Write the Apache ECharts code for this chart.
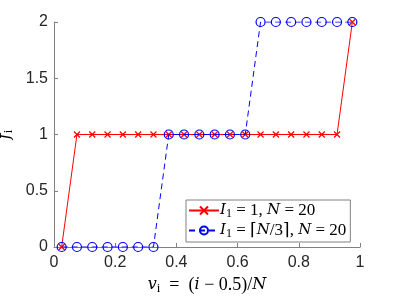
<!DOCTYPE html>
<html><head><meta charset="utf-8">
<script src="https://cdn.jsdelivr.net/npm/echarts@6/dist/echarts.min.js"></script>
<style>html,body{margin:0;padding:0;background:#fff}#c{width:399px;height:299px}</style>
</head><body><div id="c"></div>
<script>
var vValues = [0.025,0.075,0.125,0.175,0.225,0.275,0.325,0.375,0.425,0.475,0.525,0.575,0.625,0.675,0.725,0.775,0.825,0.875,0.925,0.975];
var fRed  = [0,1,1,1,1,1,1,1,1,1,1,1,1,1,1,1,1,1,1,2];
var fBlue = [0,0,0,0,0,0,0,1,1,1,1,1,1,2,2,2,2,2,2,2];
var xTicks = [0,0.2,0.4,0.6,0.8,1];
var yTicks = [0,0.5,1,1.5,2];
var seriesNames = ['red','blue'];

function pairs(xs, ys){ return xs.map(function(x,i){ return [x, ys[i]]; }); }
var serif = '"Liberation Serif", "DejaVu Serif", serif';
var iserif = '"DejaVu Serif", "Liberation Serif", serif';
function makeRich(fs){
  return {
    it: {fontFamily: iserif, fontStyle: 'italic', fontSize: fs-2, color: '#000'},
    rm: {fontFamily: serif, fontSize: fs, color: '#000'},
    sub: {fontFamily: serif, fontSize: Math.round(fs*0.7), color: '#000', verticalAlign: 'bottom', padding:[Math.round(fs*0.4),0,0,0]}
  };
}
var sans = '"Liberation Sans", Arial, sans-serif';
var chart = echarts.init(document.getElementById('c'), null, {renderer:'canvas'});
chart.setOption({
  animation: false,
  backgroundColor: '#fff',
  grid: {left: 54, right: 39, top: 22, bottom: 52, containLabel: false, outerBoundsMode: 'none'},
  xAxis: {
    type: 'value', min: 0, max: 1, interval: 0.2,
    axisLine: {lineStyle: {color: '#808080', width: 1}},
    axisTick: {inside: true, length: 4, lineStyle: {color: '#808080'}},
    splitLine: {show: false},
    axisLabel: {color: '#262626', fontSize: 16, fontFamily: sans, margin: 8,
      formatter: function(v){ return xTicks.indexOf(v) >= 0 ? String(v) : ''; }},
    name: '{it|v}{sub|i}{rm|  =  (}{it|i}{rm| − 0.5)/}{it|N}',
    nameLocation: 'middle', nameGap: 27,
    nameTextStyle: {rich: makeRich(18)}
  },
  yAxis: {
    type: 'value', min: 0, max: 2, interval: 0.5,
    axisLine: {show: true, lineStyle: {color: '#808080', width: 1}},
    axisTick: {show: true, inside: true, length: 4, lineStyle: {color: '#808080'}},
    splitLine: {show: false},
    axisLabel: {color: '#262626', fontSize: 16, fontFamily: sans, margin: 6,
      formatter: function(v){ return yTicks.indexOf(v) >= 0 ? String(v) : ''; }},
    name: '{it|f}{sub|i}',
    nameLocation: 'middle', nameGap: 34, nameRotate: 90,
    nameTextStyle: {rich: makeRich(18)}
  },
  legend: {
    orient: 'vertical', left: 186, top: 200,
    data: seriesNames,
    itemWidth: 30, itemHeight: 10, itemGap: 2,
    padding: [2, 4, 2, 2],
    borderColor: '#808080', borderWidth: 1, backgroundColor: '#fff',
    textStyle: {rich: makeRich(17), padding: [0,0,0,-4]},
    formatter: function(n){
      if (n === 'red') return '{it|I}{sub|1}{rm| = 1, }{it|N}{rm| = 20}';
      return '{it|I}{sub|1}{rm| = ⌈}{it|N}{rm|/3⌉, }{it|N}{rm| = 20}';
    }
  },
  series: [
    {
      name: 'red', type: 'line', data: pairs(vValues, fRed),
      lineStyle: {color: '#ff0000', width: 1},
      symbol: 'path://M0,0L10,10M10,0L0,10', symbolSize: 6, showAllSymbol: true,
      itemStyle: {color: '#ff0000', borderColor: '#ff0000', borderWidth: 1.2},
      z: 2
    },
    {
      name: 'blue', type: 'line', data: pairs(vValues, fBlue),
      lineStyle: {color: '#0000ff', width: 1, type: [6, 4]},
      symbol: 'circle', symbolSize: 9, showAllSymbol: true,
      itemStyle: {color: 'rgba(0,0,0,0)', borderColor: '#0000ff', borderWidth: 1.2},
      z: 3
    }
  ]
});
</script></body></html>
